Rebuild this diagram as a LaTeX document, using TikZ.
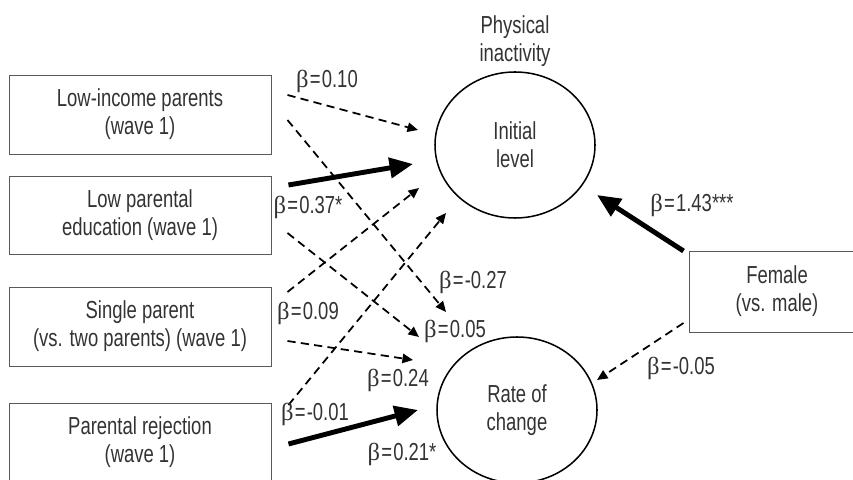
\documentclass[tikz,border=0pt]{standalone}
\usepackage{fontspec}
\setmainfont{Liberation Sans}[FakeStretch=0.75]
\newfontfamily\greekfont{Liberation Serif}
\usetikzlibrary{arrows.meta,shapes.geometric,calc,positioning}
\newcommand{\bt}[1]{{\greekfont β}\kern1pt=\kern1pt#1}

\begin{document}
\begin{tikzpicture}[x=0.03cm,y=0.03cm,
  font=\fontsize{21}{23.8}\selectfont, text=black!80,
  var/.style={draw=black!65, line width=0.8pt, rectangle, minimum width=7.86cm, minimum height=2.37cm, align=center, inner sep=0pt},
  lat/.style={draw, line width=1.3pt, ellipse, minimum width=4.8cm, minimum height=4.38cm, inner sep=0pt, align=center},
  dep/.style={line width=1.5pt, dash pattern=on 7pt off 4.5pt, -{Triangle[length=9pt,width=8pt]}},
  sig/.style={line width=4.2pt, -{Triangle[length=20pt,width=17pt]}},
  coef/.style={inner sep=0pt}
]
\useasboundingbox (0,0) rectangle (853,479);

%Observed predictors (left) and sex (right)
\node[var] (lowinc) at (140,364.5) {Low-income parents\\(wave 1)};
\node[var, minimum height=2.34cm] (loweduc) at (140,264) {Low parental\\education (wave 1)};
\node[var] (single) at (140,152.5) {Single parent\\(vs. two parents) (wave 1)};
\node[var] (reject) at (140,36.5) {Parental rejection\\(wave 1)};
\node[var, minimum width=5.28cm, minimum height=2.43cm] (female) at (777,187.5) {Female\\(vs. male)};

%Latent growth factors
\node[lat] (init) at (515,334) {Initial\\level};
\node[lat] (rate) at (517,69) {Rate of\\change};
\node[align=center] (phys) at (515,438) {Physical\\inactivity};

% Paths to the initial level
\draw[dep] ($(lowinc.east)+(16,19.5)$) -- ($(init)+(-97,15)$);
\draw[sig] ($(loweduc.east)+(17,30)$) -- ($(init)+(-102,-19)$);
\draw[dep] ($(single.east)+(16,34.5)$) -- ($(init)+(-96,-43)$);
\draw[dep] ($(reject.east)+(17,37.5)$) -- ($(init)+(-69,-68)$);
\draw[sig] ($(female.west)+(-5,40.5)$) -- ($(init)+(82,-50)$);

% Paths to the rate of change
\draw[dep] ($(lowinc.east)+(16,-5.5)$) -- ($(rate)+(-71,98)$);
\draw[dep] ($(loweduc.east)+(16,-18)$) -- ($(rate)+(-98,73)$);
\draw[dep] ($(single.east)+(16,-14.5)$) -- ($(rate)+(-104,50)$);
\draw[sig] ($(reject.east)+(17,-1.5)$) -- ($(rate)+(-99,0)$);
\draw[dep] ($(female.west)+(-5,-31.5)$) -- ($(rate)+(80,30)$);

% Coefficients
\node[coef] (b1) at (327,398) {\bt{0.10}};
\node[coef] (b2) at (308,272) {\bt{0.37*}};
\node[coef] (b3) at (308,166) {\bt{0.09}};
\node[coef] (b4) at (315,65) {\bt{-0.01}};
\node[coef] (b5) at (473,197) {\bt{-0.27}};
\node[coef] (b6) at (455,148) {\bt{0.05}};
\node[coef] (b7) at (398,99) {\bt{0.24}};
\node[coef] (b8) at (402,25) {\bt{0.21*}};
\node[coef] (b9) at (692,274) {\bt{1.43***}};
\node[coef] (b10) at (681,111) {\bt{-0.05}};
\end{tikzpicture}
\end{document}
